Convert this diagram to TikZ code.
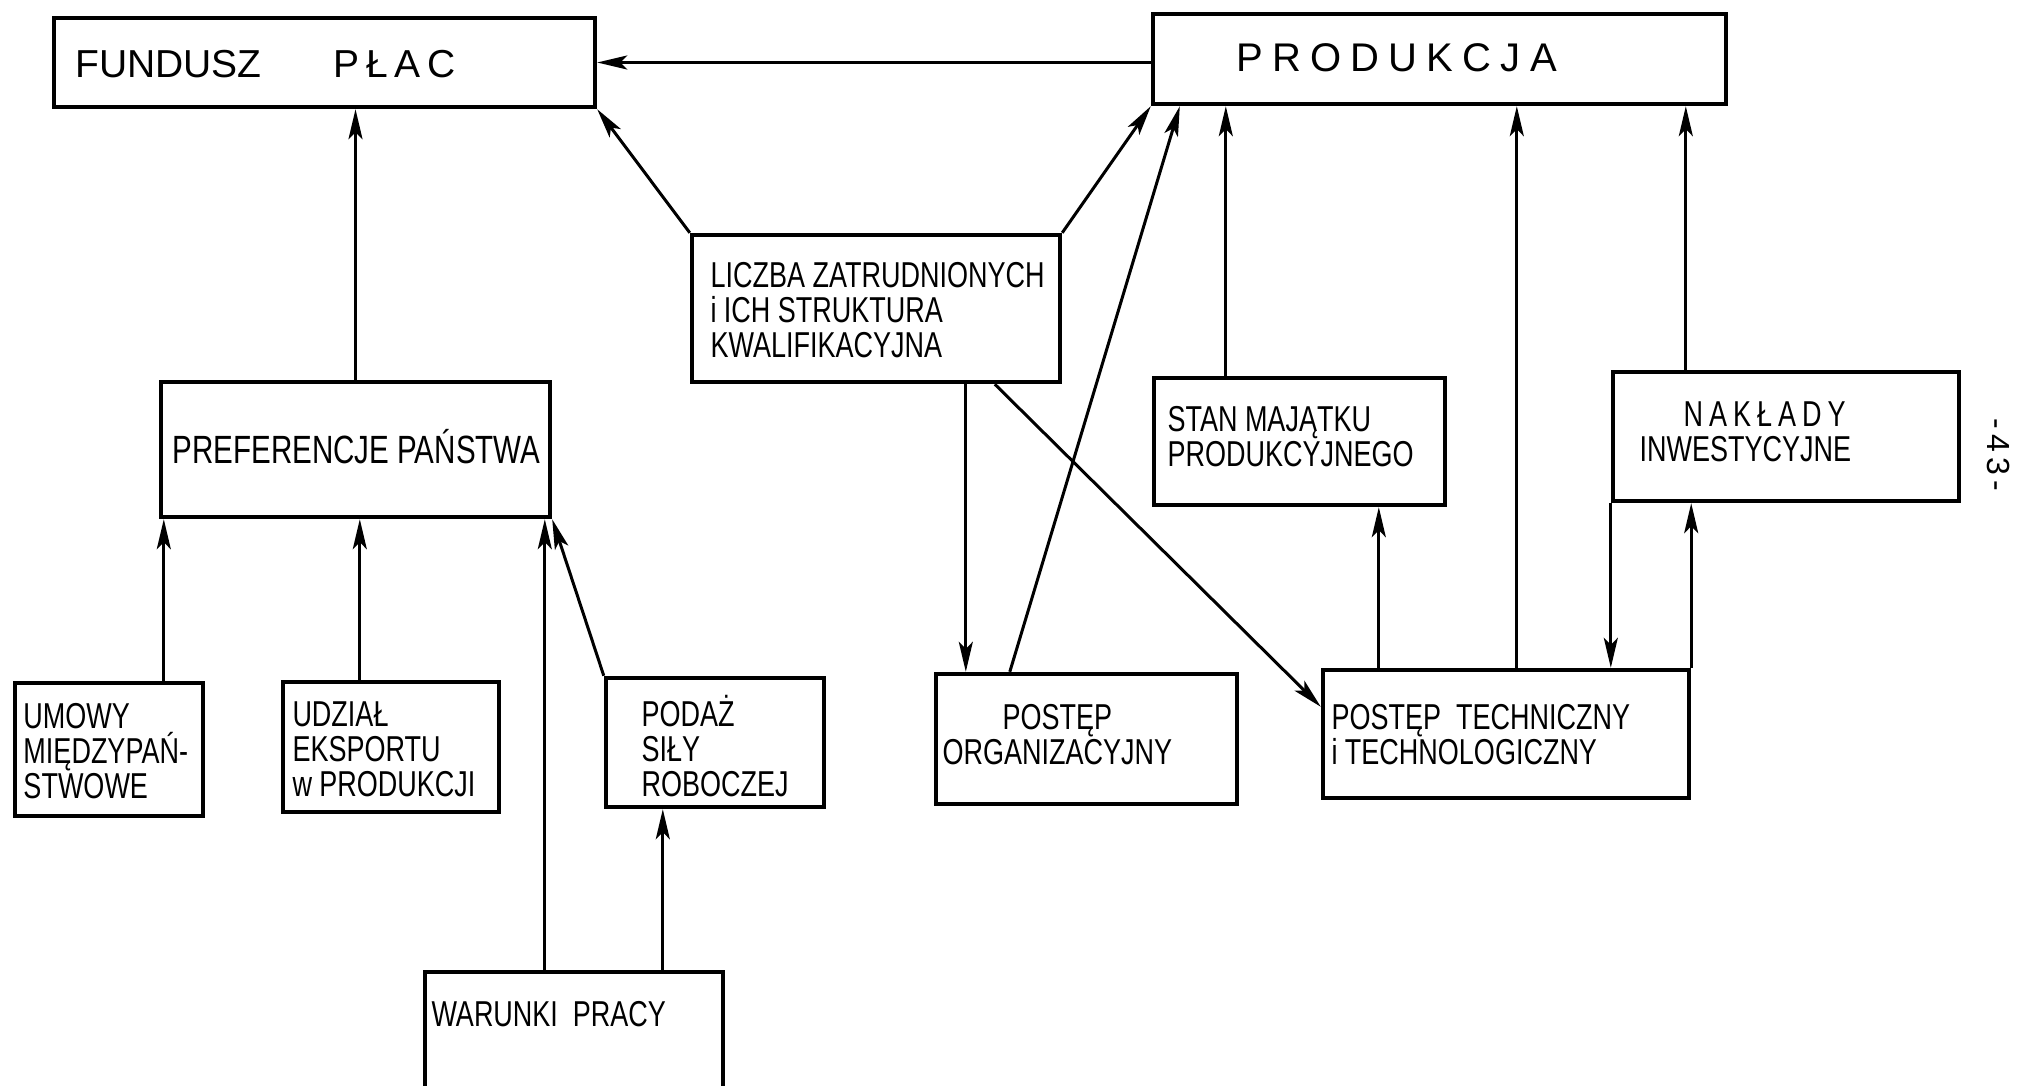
\documentclass[tikz,border=0pt]{standalone}
\usepackage{fontspec}
\newfontfamily\hand{Liberation Sans}[FakeStretch=0.75]
\newfontfamily\handwide{Liberation Sans}
\usetikzlibrary{arrows.meta,positioning}

\begin{document}
\begin{tikzpicture}[x=0.5pt,y=-0.5pt,->,>={Stealth[length=15pt,width=7pt,inset=3.5pt]},line width=1.5pt,
  box/.style={draw, rectangle, line width=2.2pt, inner sep=0pt},
  lbl/.style={font=\hand\fontsize{18}{17.5}\selectfont, align=left, inner sep=0pt, anchor=west}]
\useasboundingbox (0,0) rectangle (2018,1086);
\node[box, minimum width=270.5pt, minimum height=44.5pt] (fundusz) at (324.5,62.5) {};
\node[box, minimum width=286.5pt, minimum height=45pt] (produkcja) at (1439.5,59) {};
\node[box, minimum width=184pt, minimum height=73.5pt] (liczba) at (876,308.5) {};
\node[box, minimum width=194.5pt, minimum height=67.5pt] (pref) at (355.5,449.5) {};
\node[box, minimum width=145.5pt, minimum height=63.5pt] (stan) at (1299.5,441.5) {};
\node[box, minimum width=173pt, minimum height=64.5pt] (naklady) at (1786,436.5) {};
\node[box, minimum width=94pt, minimum height=66.5pt] (umowy) at (109,749.5) {};
\node[box, minimum width=108pt, minimum height=65pt] (udzial) at (391,747) {};
\node[box, minimum width=109pt, minimum height=64.5pt] (podaz) at (715,742.5) {};
\node[box, minimum width=150.5pt, minimum height=65pt] (org) at (1086.5,739) {};
\node[box, minimum width=183pt, minimum height=64pt] (tech) at (1506,734) {};
\node[box, minimum width=149pt, minimum height=64pt] (warunki) at (574,1036) {};
% napisy w ramkach
\node[lbl, font=\handwide\fontsize{19.5}{20}\selectfont] (fundusztxt) at (74,64) {FUNDUSZ\hspace{36pt}P\,Ł\,A\,C};
\node[lbl, font=\handwide\fontsize{20}{20}\selectfont\addfontfeature{LetterSpace=23}] (produkcjatxt) at (1235,58) {PRODUKCJA};
\node[lbl] (liczbatxt) at (709,310) {LICZBA ZATRUDNIONYCH\\i ICH STRUKTURA\\KWALIFIKACYJNA};
\node[lbl, font=\hand\fontsize{19.7}{18}\selectfont] (preftxt) at (171,447) {PREFERENCJE PAŃSTWA};
\node[lbl] (stantxt) at (1166,437) {STAN MAJĄTKU\\PRODUKCYJNEGO};
\node[lbl] (nakladytxt) at (1638,432) {\hspace*{22pt}N\,A\,K\,Ł\,A\,D\,Y\\INWESTYCYJNE};
\node[lbl] (umowytxt) at (22,751) {UMOWY\\MIĘDZYPAŃ-\\STWOWE};
\node[lbl] (udzialtxt) at (291,749) {UDZIAŁ\\EKSPORTU\\w PRODUKCJI};
\node[lbl] (podaztxt) at (640,746) {PODAŻ\\SIŁY\\ROBOCZEJ};
\node[lbl] (orgtxt) at (941,735) {\hspace*{30pt}POSTĘP\\ORGANIZACYJNY};
\node[lbl] (techtxt) at (1330,735) {POSTĘP\ \ TECHNICZNY\\i TECHNOLOGICZNY};
\node[lbl] (warunkitxt) at (430,1014) {WARUNKI\ \ PRACY};
\node[lbl, rotate=-90, anchor=center, font=\handwide\fontsize{16}{16}\selectfont] (strona) at (1998,455) {-\,4\,3\,-};
% strzalki
\path (produkcja.west |- fundusz.east) edge (fundusz.east);
\path (pref.north) edge (pref.north |- fundusz.south);
\path (liczba.north west) edge (fundusz.south east);
\path (liczba.north east) edge (produkcja.south west);
\path ([xshift=38pt]org.north west) edge ([xshift=14.5pt]produkcja.south west);
\path ([xshift=37pt]stan.north west) edge ([xshift=37pt]stan.north west |- produkcja.south);
\path ([xshift=98pt]tech.north west) edge ([xshift=98pt]tech.north west |- produkcja.south);
\path ([xshift=37.5pt]naklady.north west) edge ([xshift=37.5pt]naklady.north west |- produkcja.south);
\path ([xshift=138pt]liczba.south west) edge ([xshift=138pt]liczba.south west |- org.north);
\path ([xshift=152.5pt]liczba.south west) edge ([yshift=-19.5pt]tech.north west);
\path ([xshift=29pt]tech.north west) edge ([xshift=29pt]tech.north west |- stan.south);
\path (naklady.south west) edge (naklady.south west |- tech.north);
\path (tech.north east) edge (tech.north east |- naklady.south);
\path ([xshift=2.5pt]pref.south west |- umowy.north) edge ([xshift=2.5pt]pref.south west);
\path ([xshift=39.5pt]udzial.north west) edge ([xshift=39.5pt]udzial.north west |- pref.south);
\path ([xshift=61pt]warunki.north west) edge ([xshift=61pt]warunki.north west |- pref.south);
\path (podaz.north west) edge (pref.south east);
\path ([xshift=29.5pt]podaz.south west |- warunki.north) edge ([xshift=29.5pt]podaz.south west);
\end{tikzpicture}
\end{document}
